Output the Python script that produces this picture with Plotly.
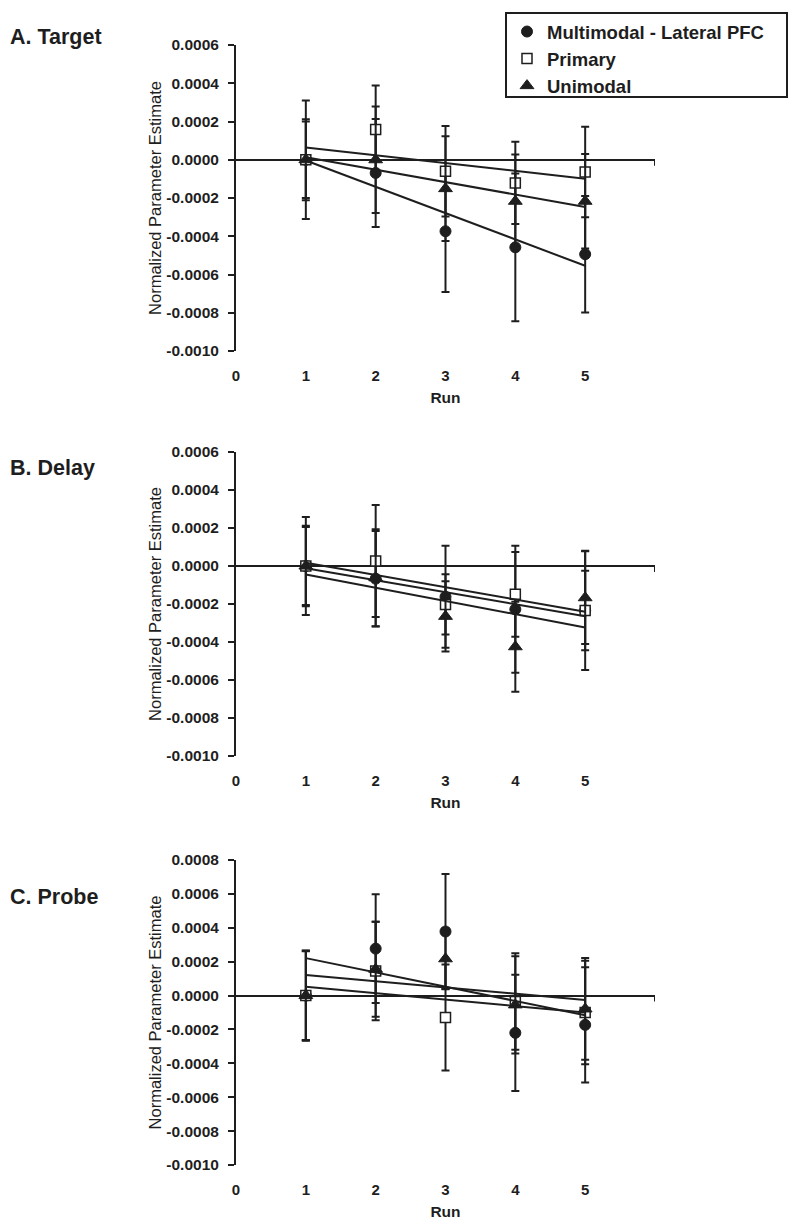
import numpy as np
import plotly.graph_objects as go

runs = [1, 2, 3, 4, 5]
series_names = ["Multimodal - Lateral PFC", "Primary", "Unimodal"]
panel_titles = ["A. Target", "B. Delay", "C. Probe"]
x_tick_vals = [0, 1, 2, 3, 4, 5]
x_tick_text = ["0", "1", "2", "3", "4", "5"]

# Panel A: Target
target_multimodal = [0.0, -0.69e-4, -3.74e-4, -4.58e-4, -4.94e-4]
target_multimodal_err = [3.10e-4, 2.82e-4, 3.17e-4, 3.86e-4, 3.05e-4]
target_primary = [0.0, 1.58e-4, -0.60e-4, -1.21e-4, -0.64e-4]
target_primary_err = [2.00e-4, 2.30e-4, 2.37e-4, 2.15e-4, 2.36e-4]
target_unimodal = [0.0, 0.0, -1.51e-4, -2.17e-4, -2.17e-4]
target_unimodal_err = [2.12e-4, 2.78e-4, 2.74e-4, 2.44e-4, 2.47e-4]

# Panel B: Delay
delay_multimodal = [0.0, -0.67e-4, -1.62e-4, -2.28e-4, -2.34e-4]
delay_multimodal_err = [2.58e-4, 2.51e-4, 2.68e-4, 3.34e-4, 3.14e-4]
delay_primary = [0.0, 0.26e-4, -2.02e-4, -1.49e-4, -2.34e-4]
delay_primary_err = [2.05e-4, 2.95e-4, 1.59e-4, 2.23e-4, 2.09e-4]
delay_unimodal = [0.0, -0.62e-4, -2.65e-4, -4.25e-4, -1.67e-4]
delay_unimodal_err = [2.12e-4, 2.55e-4, 1.85e-4, 2.37e-4, 2.44e-4]

# Panel C: Probe
probe_multimodal = [0.0, 2.77e-4, 3.78e-4, -2.20e-4, -1.73e-4]
probe_multimodal_err = [2.66e-4, 3.21e-4, 3.40e-4, 3.43e-4, 3.40e-4]
probe_primary = [0.0, 1.45e-4, -1.30e-4, -0.35e-4, -1.00e-4]
probe_primary_err = [2.64e-4, 2.90e-4, 3.13e-4, 2.85e-4, 3.05e-4]
probe_unimodal = [0.0, 1.55e-4, 2.17e-4, -0.55e-4, -0.79e-4]
probe_unimodal_err = [2.62e-4, 2.80e-4, 1.80e-4, 2.87e-4, 3.00e-4]

y_tick_vals_ab = [0.0006, 0.0004, 0.0002, 0.0, -0.0002, -0.0004, -0.0006, -0.0008, -0.0010]
y_tick_text_ab = ["0.0006", "0.0004", "0.0002", "0.0000", "-0.0002", "-0.0004", "-0.0006", "-0.0008", "-0.0010"]
y_tick_vals_c = [0.0008] + y_tick_vals_ab
y_tick_text_c = ["0.0008"] + y_tick_text_ab

panels = [
    ([target_multimodal, target_primary, target_unimodal],
     [target_multimodal_err, target_primary_err, target_unimodal_err],
     [-0.0010, 0.0006], y_tick_vals_ab, y_tick_text_ab),
    ([delay_multimodal, delay_primary, delay_unimodal],
     [delay_multimodal_err, delay_primary_err, delay_unimodal_err],
     [-0.0010, 0.0006], y_tick_vals_ab, y_tick_text_ab),
    ([probe_multimodal, probe_primary, probe_unimodal],
     [probe_multimodal_err, probe_primary_err, probe_unimodal_err],
     [-0.0010, 0.0008], y_tick_vals_c, y_tick_text_c),
]

INK = "#1e1e1e"
FONT = "Liberation Sans, Arial, sans-serif"
W, H = 800, 1230
OFF = 8  # page body margin offset

def px_x(v):
    return (v - OFF) / W

def px_y(v):
    return 1 - (v - OFF) / H

marker_styles = [
    dict(symbol="circle", size=11, color=INK, line=dict(color=INK, width=1)),
    dict(symbol="square", size=10, color="white", line=dict(color=INK, width=1.5)),
    dict(symbol="triangle-up", size=12, color=INK, line=dict(color=INK, width=1)),
]

# pixel layout of plot areas (page coordinates: top, bottom)
x_left, x_right = 236, 655
panel_px = [(45, 351), (452, 756), (860, 1165)]
title_px = [37, 468, 897]

fig = go.Figure()

for p, (vals, errs, yrange, tv, tt) in enumerate(panels):
    xa = "x" if p == 0 else f"x{p+1}"
    ya = "y" if p == 0 else f"y{p+1}"
    for s in range(3):
        fig.add_trace(go.Scatter(
            x=runs, y=vals[s], mode="markers", name=series_names[s],
            legendgroup=series_names[s], showlegend=(p == 0),
            marker=marker_styles[s],
            error_y=dict(type="data", array=errs[s], visible=True,
                         color=INK, thickness=2, width=4),
            xaxis=xa, yaxis=ya,
        ))
    for s in range(3):
        slope, intercept = np.polyfit(runs, vals[s], 1)
        xs = [runs[0], runs[-1]]
        fig.add_trace(go.Scatter(
            x=xs, y=[slope * xv + intercept for xv in xs], mode="lines",
            line=dict(color=INK, width=2), showlegend=False, hoverinfo="skip",
            xaxis=xa, yaxis=ya,
        ))

    top, bot = panel_px[p]
    xkey = "xaxis" if p == 0 else f"xaxis{p+1}"
    ykey = "yaxis" if p == 0 else f"yaxis{p+1}"
    fig.update_layout(**{
        xkey: dict(
            domain=[px_x(x_left), px_x(x_right)], range=[0, 6], anchor=ya,
            tickvals=x_tick_vals, ticktext=x_tick_text, automargin=False,
            showline=False, showgrid=False, zeroline=False, ticks="",
            ticklabelstandoff=14,
            tickfont=dict(family=FONT, size=15, color=INK, weight="bold"),
            title=dict(text="Run", standoff=9,
                       font=dict(family=FONT, size=15.5, color=INK, weight="bold")),
        ),
        ykey: dict(
            domain=[px_y(bot), px_y(top)], range=yrange, anchor=xa,
            tickvals=tv, ticktext=tt, automargin=False,
            showline=True, linecolor=INK, linewidth=2,
            ticks="outside", ticklen=6, tickwidth=2, tickcolor=INK,
            showgrid=False, zeroline=True, zerolinecolor=INK, zerolinewidth=2,
            ticklabelstandoff=6,
            tickfont=dict(family=FONT, size=15.5, color=INK, weight="bold"),
            title=dict(text="Normalized Parameter Estimate", standoff=1,
                       font=dict(family=FONT, size=16.5, color=INK)),
        ),
    })
    fig.add_shape(type="line", xref=xa, yref=ya, x0=6, x1=6,
                  ysizemode="pixel", yanchor=0, y0=0, y1=-6,
                  line=dict(color=INK, width=2))
    fig.add_annotation(text=panel_titles[p], xref="paper", yref="paper",
                       x=px_x(8), y=px_y(title_px[p]), xanchor="left", yanchor="middle",
                       showarrow=False,
                       font=dict(family=FONT, size=21.5, color=INK, weight="bold"))

# legend frame
fig.add_shape(type="rect", xref="paper", yref="paper",
              x0=px_x(506), x1=px_x(787), y0=px_y(97), y1=px_y(13),
              line=dict(color=INK, width=2), fillcolor="rgba(0,0,0,0)", layer="above")

fig.update_layout(
    width=W, height=H,
    margin=dict(l=0, r=0, t=0, b=0),
    paper_bgcolor="white", plot_bgcolor="white",
    showlegend=True,
    legend=dict(x=px_x(507), y=px_y(13), xanchor="left", yanchor="top",
                borderwidth=0, bgcolor="rgba(0,0,0,0)",
                font=dict(family=FONT, size=18.5, color=INK, weight="bold"),
                tracegroupgap=0),
)

fig.write_html("out.html")
